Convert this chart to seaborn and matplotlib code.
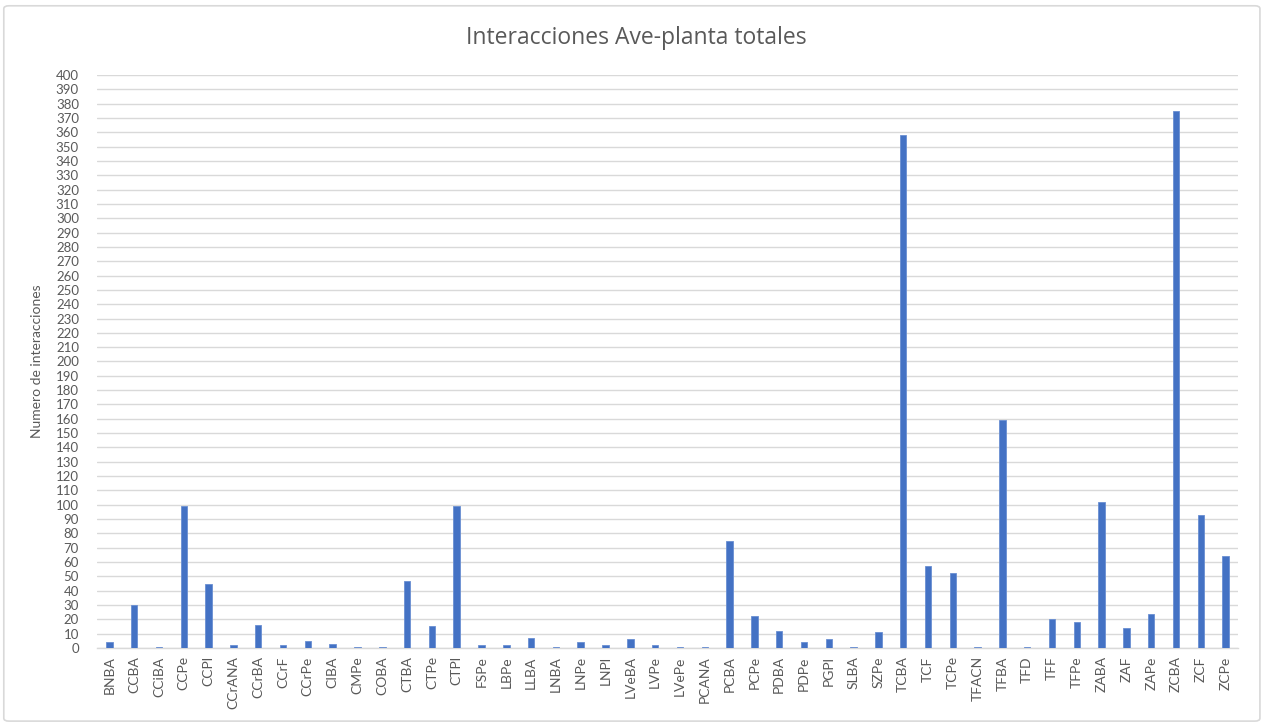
import numpy as np
import pandas as pd
import matplotlib
matplotlib.use("Agg")
import matplotlib.pyplot as plt
from matplotlib.patches import FancyBboxPatch
import seaborn as sns

categories = [
    "BNBA", "CCBA", "CCiBA", "CCPe", "CCPl", "CCrANA", "CCrBA", "CCrF", "CCrPe",
    "CIBA", "CMPe", "COBA", "CTBA", "CTPe", "CTPl", "FSPe", "LBPe", "LLBA", "LNBA",
    "LNPe", "LNPl", "LVeBA", "LVPe", "LVePe", "PCANA", "PCBA", "PCPe", "PDBA",
    "PDPe", "PGPl", "SLBA", "SZPe", "TCBA", "TCF", "TCPe", "TFACN", "TFBA", "TFD",
    "TFF", "TFPe", "ZABA", "ZAF", "ZAPe", "ZCBA", "ZCF", "ZCPe",
]
interacciones = [
    4, 30, 1, 99, 45, 2, 16, 2, 5,
    3, 1, 1, 47, 15, 99, 2, 2, 7, 1,
    4, 2, 6, 2, 1, 1, 75, 22, 12,
    4, 6, 1, 11, 358, 57, 52, 1, 159, 1,
    20, 18, 102, 14, 24, 375, 93, 64,
]
y_ticks = list(range(0, 401, 10))

df = pd.DataFrame({"codigo": categories, "n": interacciones})

sns.set_theme(style="white")
plt.rcParams["font.family"] = ["Lato", "DejaVu Sans"]

text_gray = "#595959"
grid_gray = "#D9D9D9"
bar_blue = "#4472C4"

fig = plt.figure(figsize=(12.65, 7.24), dpi=100)
ax = fig.add_axes([0.0767, 0.105, 0.902, 0.7914])

sns.barplot(data=df, x="codigo", y="n", color=bar_blue, width=0.26,
            saturation=1, ax=ax, zorder=3,
            edgecolor="#6A8FD2", linewidth=0.6)

ax.set_ylim(0, 400)
ax.set_xlim(-0.5, len(categories) - 0.5)
ax.set_yticks(y_ticks)
ax.set_yticklabels([str(v) for v in y_ticks], color=text_gray, fontsize=9.5)
ax.tick_params(axis="x", labelrotation=90, labelsize=10, labelcolor=text_gray,
               length=0, pad=6)
ax.tick_params(axis="y", length=0, pad=13)
ax.set_axisbelow(True)
ax.yaxis.grid(True, color=grid_gray, linewidth=1.0, zorder=0)
ax.xaxis.grid(False)
for side in ("top", "right", "left"):
    ax.spines[side].set_visible(False)
ax.spines["bottom"].set_color(grid_gray)
ax.spines["bottom"].set_linewidth(1.0)
ax.spines["bottom"].set_zorder(0.5)

ax.set_xlabel("")
ax.set_ylabel("Numero de interacciones", color=text_gray, fontsize=10, labelpad=9)

fig.text(0.5028, 0.9475, "Interacciones Ave-planta totales", ha="center",
         va="center", fontsize=16.5, color=text_gray,
         family=["Open Sans", "DejaVu Sans"])

border = FancyBboxPatch((0.003, 0.004), 0.993, 0.988,
                        boxstyle="round,pad=0,rounding_size=0.004",
                        transform=fig.transFigure, fill=False,
                        edgecolor=grid_gray, linewidth=1.2)
fig.patches.append(border)

fig.savefig("out.png", dpi=100)
